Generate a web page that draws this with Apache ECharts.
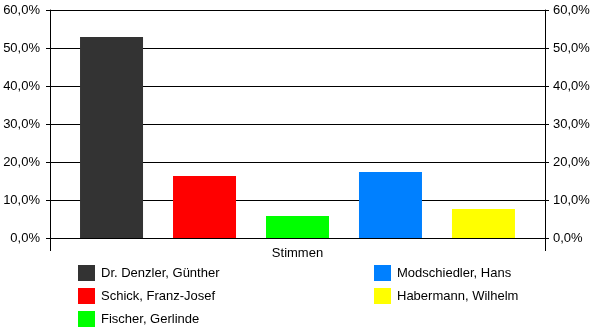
<!DOCTYPE html>
<html>
<head>
<meta charset="utf-8">
<script src="https://cdn.jsdelivr.net/npm/echarts@6/dist/echarts.min.js"></script>
<style>html,body{margin:0;padding:0;background:#fff}#c{width:600px;height:333px}</style>
</head>
<body>
<div id="c"></div>
<script>
var categories = ['Stimmen'];
var seriesNames = ['Dr. Denzler, Günther', 'Schick, Franz-Josef', 'Fischer, Gerlinde', 'Modschiedler, Hans', 'Habermann, Wilhelm'];
var seriesValues = [52.9, 16.3, 5.8, 17.4, 7.6];
var seriesColors = ['#333333', '#ff0000', '#00ff00', '#0080ff', '#ffff00'];
var legendCol1 = ['Dr. Denzler, Günther', 'Schick, Franz-Josef', 'Fischer, Gerlinde'];
var legendCol2 = ['Modschiedler, Hans', 'Habermann, Wilhelm'];

var FONT = 'Liberation Sans, Arial, sans-serif';
function fmt(v) { return v.toFixed(1).replace('.', ',') + '%'; }

var chart = echarts.init(document.getElementById('c'), null, {renderer: 'canvas'});
var series = seriesNames.map(function (n, i) {
  return {
    name: n,
    type: 'bar',
    data: [seriesValues[i]],
    barWidth: 63,
    barGap: '47.6%',
    itemStyle: {color: seriesColors[i]},
    yAxisIndex: 0
  };
});
function legendCfg(data, left) {
  return {
    data: data,
    orient: 'vertical',
    left: left,
    top: 265,
    icon: 'rect',
    itemWidth: 17,
    itemHeight: 16,
    itemGap: 7,
    padding: 0,
    textStyle: {fontFamily: FONT, fontSize: 13, color: '#000', padding: [0, 0, 0, 1]},
    selectedMode: false
  };
}
chart.setOption({
  animation: false,
  backgroundColor: '#fff',
  grid: {left: 50, right: 55, top: 10, bottom: 95, containLabel: false},
  legend: [legendCfg(legendCol1, 78), legendCfg(legendCol2, 374)],
  xAxis: {
    type: 'category',
    data: categories,
    boundaryGap: true,
    axisLine: {show: true, lineStyle: {color: '#000', width: 1}},
    axisTick: {show: true, length: 13, alignWithLabel: false, lineStyle: {color: '#000'}},
    axisLabel: {fontFamily: FONT, fontSize: 13, color: '#000', margin: 9},
    splitLine: {show: false}
  },
  yAxis: [
    {
      type: 'value', position: 'left', min: 0, max: 60, interval: 10,
      axisLine: {show: true, lineStyle: {color: '#000'}},
      axisTick: {show: true, length: 4, inside: false, lineStyle: {color: '#000'}},
      axisLabel: {fontFamily: FONT, fontSize: 13, color: '#000', margin: 10, formatter: fmt},
      splitLine: {show: true, lineStyle: {color: '#000', width: 1}}
    },
    {
      type: 'value', position: 'right', min: 0, max: 60, interval: 10,
      axisLine: {show: true, lineStyle: {color: '#000'}},
      axisTick: {show: true, length: 4, inside: false, lineStyle: {color: '#000'}},
      axisLabel: {fontFamily: FONT, fontSize: 13, color: '#000', margin: 8, formatter: fmt},
      splitLine: {show: false}
    }
  ],
  series: series
});
</script>
</body>
</html>
